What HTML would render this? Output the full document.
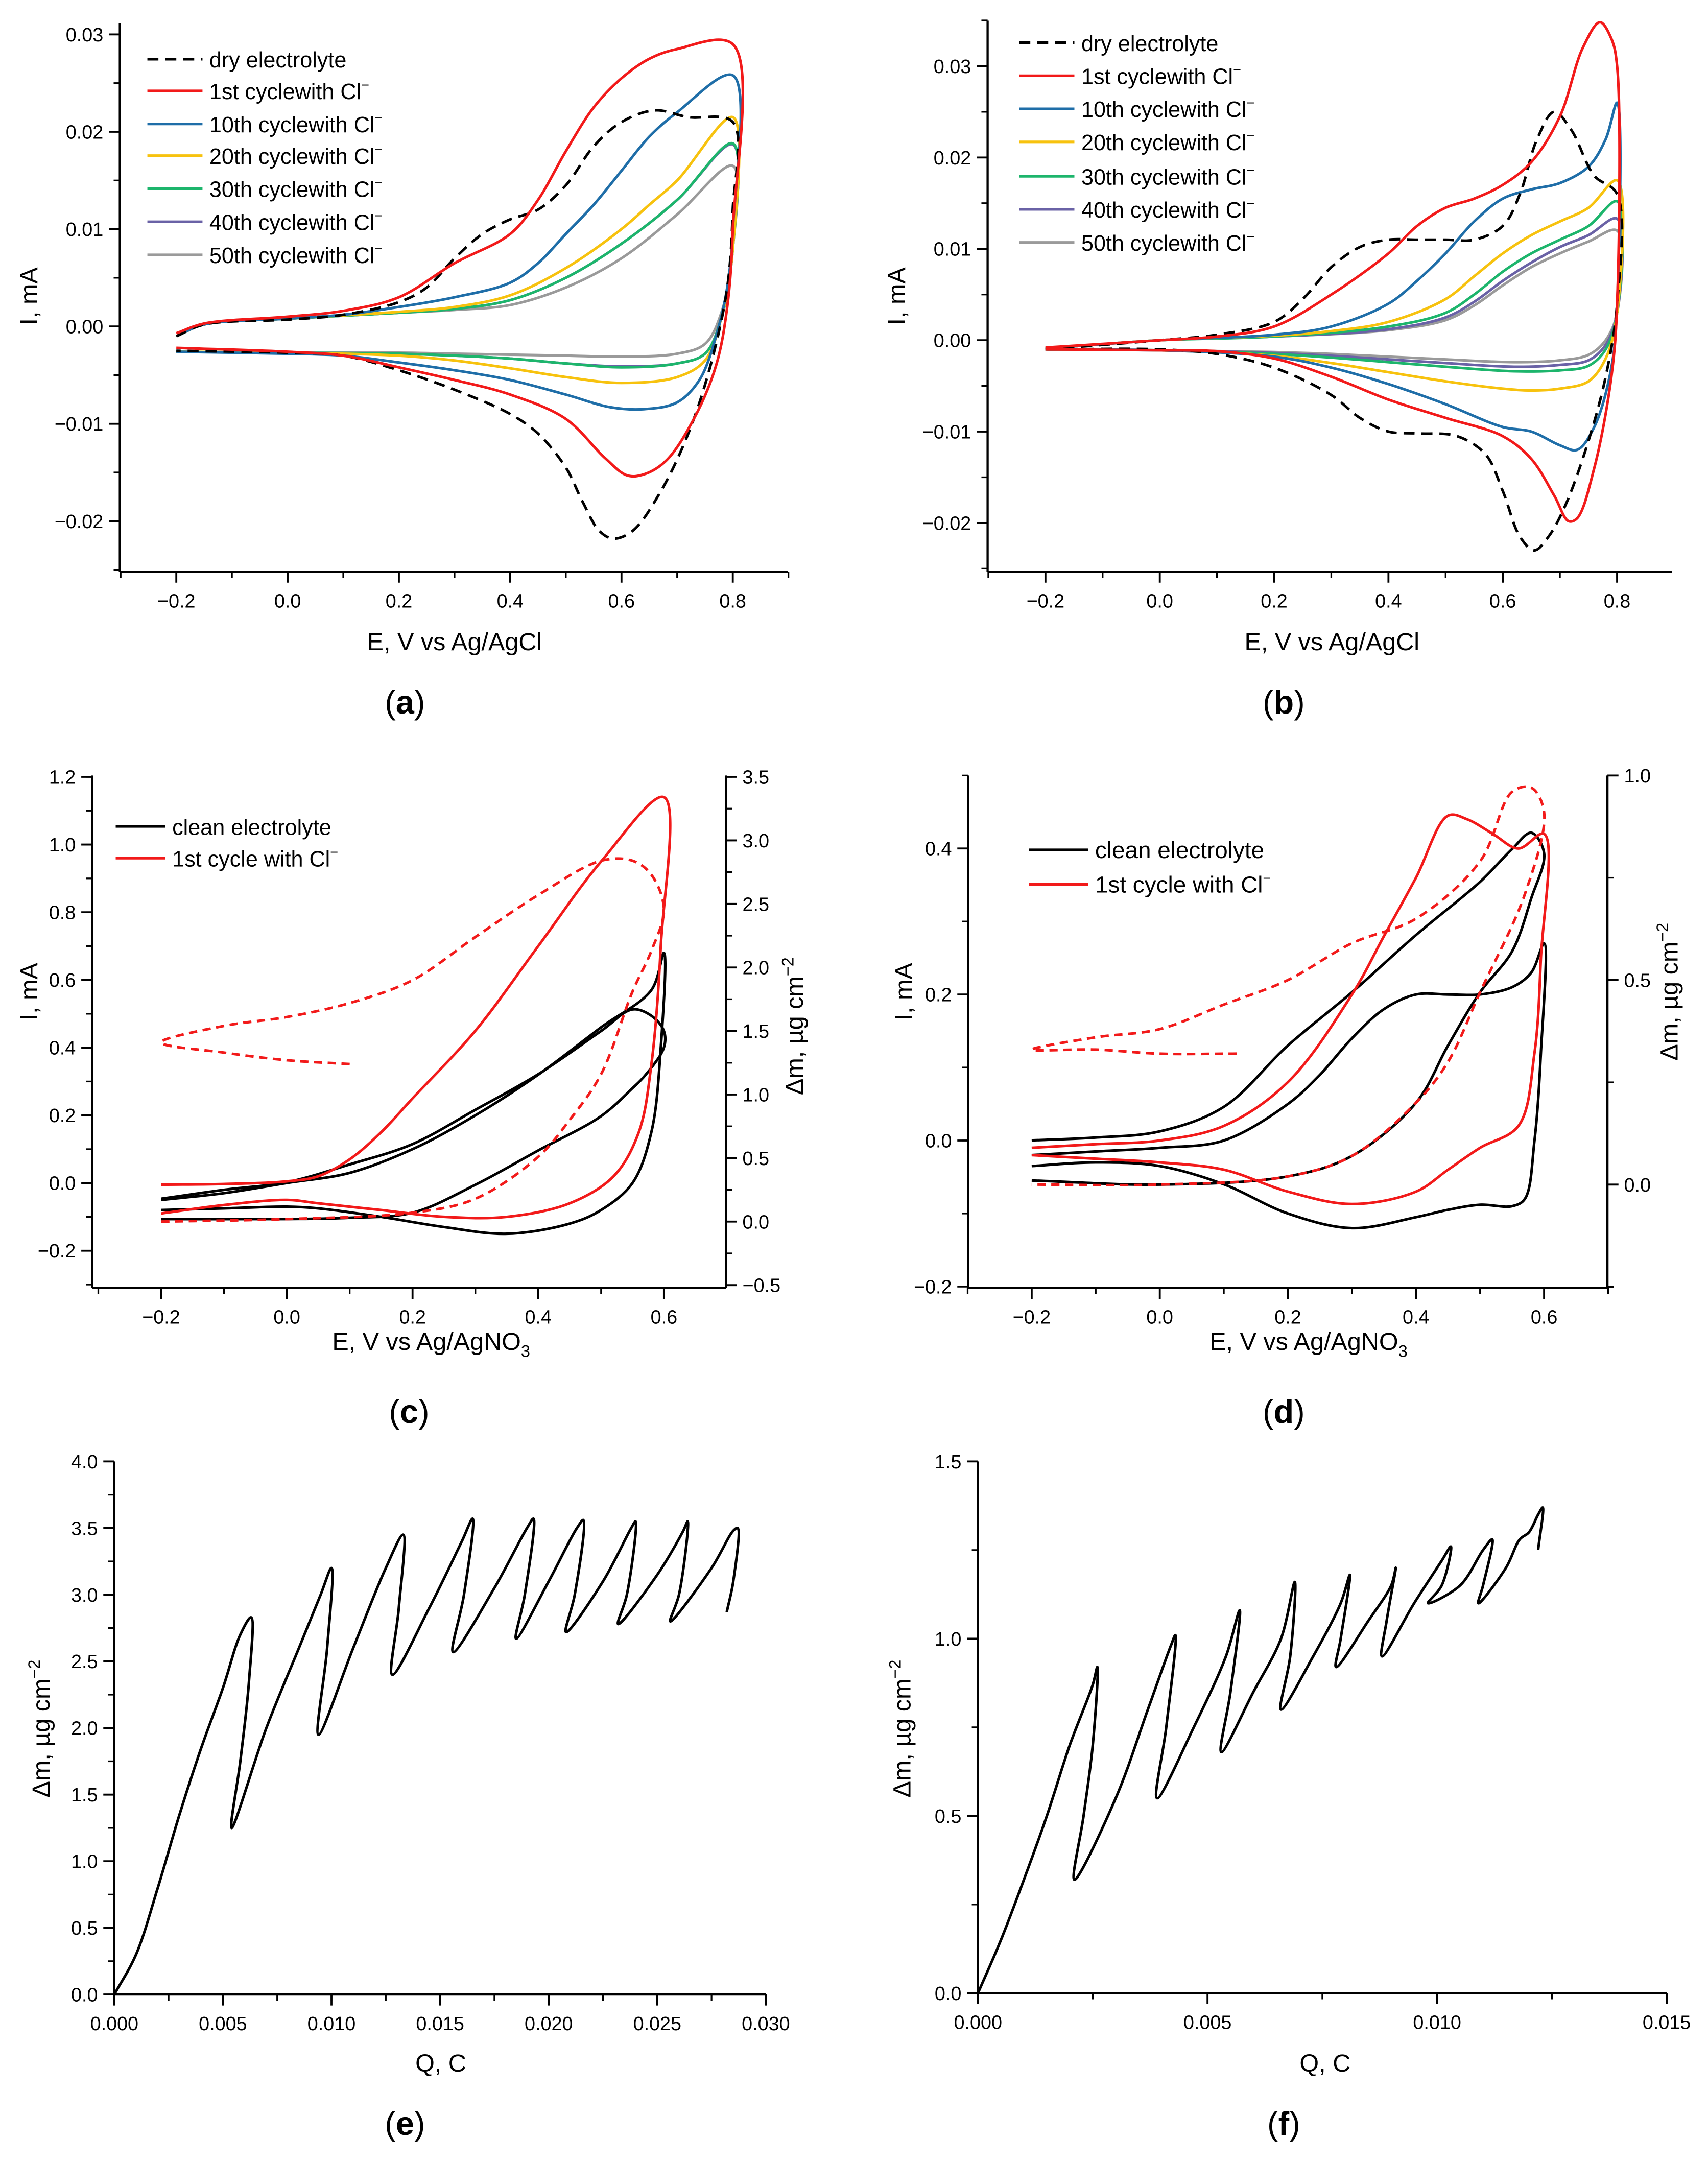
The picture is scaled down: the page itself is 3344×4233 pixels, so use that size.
<!DOCTYPE html>
<html><head><meta charset="utf-8"><style>
html,body{margin:0;padding:0;background:#fff}
svg{display:block}
text{font-family:"Liberation Sans",Arial,sans-serif;fill:#000}
</style></head><body>
<svg id="fig" xmlns="http://www.w3.org/2000/svg" width="3344" height="4233" viewBox="0 0 1240 1569.6" preserveAspectRatio="none"></svg>
<script>
// ---------- Panel (a) data: [E, I mA] ----------
const a_dry  = [[-0.2,-0.001],[-0.15,0.0002],[0,0.0007],[0.1,0.0012],[0.2,0.0025],[0.25,0.004],[0.3,0.007],[0.35,0.0095],[0.4,0.011],[0.45,0.012],[0.5,0.0145],[0.55,0.0185],[0.6,0.021],[0.66,0.0222],[0.72,0.0215],[0.8,0.021],[0.8,0.012],[0.79,0.004],[0.76,-0.004],[0.72,-0.011],[0.67,-0.017],[0.62,-0.021],[0.585,-0.0218],[0.56,-0.021],[0.53,-0.018],[0.5,-0.0145],[0.45,-0.011],[0.4,-0.009],[0.3,-0.0065],[0.2,-0.0045],[0.1,-0.003],[0,-0.0027],[-0.2,-0.0025]];
const a_c1   = [[-0.2,-0.0007],[-0.15,0.0003],[0,0.001],[0.1,0.0016],[0.2,0.003],[0.3,0.0065],[0.4,0.0095],[0.45,0.013],[0.5,0.018],[0.55,0.0225],[0.6,0.0255],[0.65,0.0275],[0.7,0.0285],[0.8,0.029],[0.8,0.01],[0.79,0.002],[0.77,-0.004],[0.73,-0.0095],[0.68,-0.0138],[0.64,-0.0152],[0.61,-0.0153],[0.57,-0.0135],[0.5,-0.0095],[0.4,-0.007],[0.3,-0.0055],[0.2,-0.0042],[0.1,-0.003],[0,-0.0026],[-0.2,-0.0022]];
const a_c10  = [[-0.2,-0.001],[-0.15,0.0002],[0,0.0008],[0.1,0.0012],[0.2,0.002],[0.3,0.003],[0.4,0.0045],[0.45,0.0065],[0.5,0.0095],[0.55,0.0125],[0.6,0.016],[0.65,0.0195],[0.7,0.022],[0.8,0.0258],[0.8,0.01],[0.79,0.004],[0.77,-0.001],[0.74,-0.0055],[0.7,-0.0078],[0.64,-0.0085],[0.58,-0.0083],[0.5,-0.007],[0.4,-0.0055],[0.3,-0.0045],[0.2,-0.0037],[0.1,-0.003],[0,-0.0028],[-0.2,-0.0026]];
const a_c20  = [[-0.2,-0.001],[-0.15,0.0002],[0,0.0008],[0.2,0.0015],[0.3,0.002],[0.4,0.0032],[0.5,0.006],[0.6,0.01],[0.65,0.0125],[0.7,0.015],[0.8,0.0215],[0.8,0.008],[0.78,0.001],[0.75,-0.0035],[0.7,-0.0052],[0.6,-0.0058],[0.5,-0.0052],[0.4,-0.0043],[0.3,-0.0035],[0.2,-0.003],[0,-0.0027],[-0.2,-0.0026]];
const a_c30  = [[-0.2,-0.001],[-0.15,0.0002],[0,0.0008],[0.2,0.0014],[0.3,0.0018],[0.4,0.0027],[0.5,0.005],[0.6,0.0085],[0.7,0.013],[0.8,0.0188],[0.8,0.008],[0.78,0.001],[0.75,-0.0028],[0.7,-0.0038],[0.6,-0.0042],[0.5,-0.0038],[0.4,-0.0033],[0.3,-0.003],[0.2,-0.0028],[0,-0.0027],[-0.2,-0.0026]];
const a_c40  = [[-0.2,-0.001],[-0.15,0.0002],[0,0.0008],[0.2,0.0014],[0.3,0.0018],[0.4,0.0027],[0.5,0.005],[0.6,0.0085],[0.7,0.013],[0.8,0.0187],[0.8,0.008],[0.78,0.001],[0.75,-0.0028],[0.7,-0.0038],[0.6,-0.0041],[0.5,-0.0038],[0.4,-0.0033],[0.3,-0.003],[0.2,-0.0028],[0,-0.0027],[-0.2,-0.0026]];
const a_c50  = [[-0.2,-0.001],[-0.15,0.0002],[0,0.0008],[0.2,0.0014],[0.3,0.0017],[0.4,0.0022],[0.5,0.004],[0.6,0.007],[0.7,0.0115],[0.8,0.0165],[0.8,0.008],[0.78,0.0015],[0.75,-0.0018],[0.7,-0.0028],[0.6,-0.0031],[0.5,-0.003],[0.4,-0.0029],[0.3,-0.0028],[0.2,-0.0027],[0,-0.0027],[-0.2,-0.0026]];
// ---------- Panel (b) data ----------
const b_dry  = [[-0.2,-0.001],[0,0],[0.1,0.0006],[0.2,0.002],[0.25,0.0045],[0.3,0.008],[0.35,0.0102],[0.4,0.011],[0.45,0.011],[0.5,0.011],[0.55,0.011],[0.6,0.0125],[0.63,0.016],[0.66,0.022],[0.69,0.025],[0.72,0.023],[0.76,0.018],[0.8,0.016],[0.8,0.004],[0.78,-0.004],[0.75,-0.011],[0.71,-0.018],[0.68,-0.0215],[0.655,-0.023],[0.63,-0.0215],[0.6,-0.0165],[0.57,-0.0125],[0.52,-0.0105],[0.45,-0.0102],[0.4,-0.01],[0.35,-0.0085],[0.3,-0.006],[0.2,-0.003],[0.1,-0.0015],[0,-0.001],[-0.2,-0.001]];
const b_c1   = [[-0.2,-0.0008],[0,0],[0.1,0.0004],[0.2,0.0015],[0.3,0.005],[0.4,0.0095],[0.45,0.0125],[0.5,0.0145],[0.55,0.0155],[0.6,0.017],[0.65,0.0195],[0.7,0.0245],[0.74,0.032],[0.77,0.0348],[0.79,0.033],[0.8,0.03],[0.8,0.004],[0.79,-0.004],[0.76,-0.014],[0.73,-0.0195],[0.715,-0.0198],[0.69,-0.017],[0.65,-0.013],[0.6,-0.0105],[0.5,-0.0085],[0.4,-0.0065],[0.3,-0.004],[0.2,-0.002],[0.1,-0.0012],[0,-0.0011],[-0.2,-0.001]];
const b_c10  = [[-0.2,-0.0009],[0,0],[0.2,0.0006],[0.3,0.0015],[0.4,0.004],[0.45,0.0065],[0.5,0.0095],[0.55,0.013],[0.6,0.0155],[0.65,0.0165],[0.7,0.0172],[0.75,0.019],[0.78,0.022],[0.8,0.026],[0.8,0.004],[0.79,-0.003],[0.76,-0.0095],[0.73,-0.012],[0.7,-0.0115],[0.65,-0.01],[0.6,-0.0095],[0.5,-0.007],[0.4,-0.0048],[0.3,-0.003],[0.2,-0.0018],[0,-0.0011],[-0.2,-0.001]];
const b_c20  = [[-0.2,-0.0009],[0,0],[0.2,0.0005],[0.3,0.001],[0.4,0.002],[0.5,0.0045],[0.55,0.007],[0.6,0.0095],[0.65,0.0115],[0.7,0.013],[0.75,0.0145],[0.8,0.0175],[0.8,0.003],[0.78,-0.002],[0.75,-0.0045],[0.7,-0.0053],[0.65,-0.0055],[0.6,-0.0053],[0.5,-0.0045],[0.4,-0.0035],[0.3,-0.0025],[0.2,-0.0017],[0,-0.0011],[-0.2,-0.001]];
const b_c30  = [[-0.2,-0.0009],[0,0],[0.2,0.0004],[0.4,0.0015],[0.5,0.003],[0.55,0.005],[0.6,0.0075],[0.65,0.0095],[0.7,0.011],[0.75,0.0125],[0.8,0.0152],[0.8,0.003],[0.78,-0.001],[0.75,-0.0028],[0.7,-0.0033],[0.62,-0.0034],[0.5,-0.0029],[0.4,-0.0024],[0.3,-0.0019],[0.2,-0.0015],[0,-0.0011],[-0.2,-0.001]];
const b_c40  = [[-0.2,-0.0009],[0,0],[0.2,0.0004],[0.4,0.0012],[0.5,0.0025],[0.55,0.0042],[0.6,0.0065],[0.65,0.0085],[0.7,0.0102],[0.75,0.0115],[0.8,0.0133],[0.8,0.003],[0.78,-0.0005],[0.75,-0.0022],[0.7,-0.0027],[0.62,-0.0029],[0.5,-0.0025],[0.4,-0.0021],[0.3,-0.0017],[0.2,-0.0014],[0,-0.0011],[-0.2,-0.001]];
const b_c50  = [[-0.2,-0.0009],[0,0],[0.2,0.0004],[0.4,0.0011],[0.5,0.0022],[0.55,0.0038],[0.6,0.006],[0.65,0.008],[0.7,0.0095],[0.75,0.0108],[0.8,0.012],[0.8,0.003],[0.78,0.0],[0.75,-0.0016],[0.7,-0.0022],[0.62,-0.0024],[0.5,-0.0021],[0.4,-0.0018],[0.3,-0.0015],[0.2,-0.0013],[0,-0.0011],[-0.2,-0.001]];
// ---------- Panel (c) data ----------
const c_cv_clean = [[-0.2,-0.05],[-0.1,-0.03],[0,0.0],[0.1,0.03],[0.2,0.1],[0.3,0.2],[0.4,0.32],[0.5,0.46],[0.58,0.57],[0.6,0.68],[0.595,0.4],[0.58,0.15],[0.55,0.0],[0.5,-0.08],[0.45,-0.12],[0.35,-0.15],[0.25,-0.13],[0.15,-0.1],[0.05,-0.075],[0,-0.07],[-0.1,-0.075],[-0.2,-0.08]];
const c_cv_cl    = [[-0.2,-0.005],[-0.1,-0.003],[0,0.005],[0.05,0.02],[0.1,0.07],[0.15,0.15],[0.2,0.25],[0.3,0.45],[0.4,0.7],[0.5,0.95],[0.6,1.14],[0.595,0.7],[0.58,0.35],[0.56,0.15],[0.52,0.02],[0.45,-0.06],[0.35,-0.1],[0.25,-0.1],[0.15,-0.08],[0.05,-0.06],[0,-0.05],[-0.1,-0.065],[-0.2,-0.09]];
const c_m_clean  = [[-0.2,0.18],[-0.1,0.25],[0,0.31],[0.1,0.45],[0.2,0.61],[0.3,0.88],[0.4,1.16],[0.5,1.5],[0.55,1.67],[0.58,1.62],[0.6,1.5],[0.6,1.37],[0.57,1.15],[0.55,1.05],[0.5,0.83],[0.4,0.56],[0.3,0.29],[0.2,0.07],[0.1,0.03],[0,0.02],[-0.2,0.02]];
const c_m_cl     = [[0.1,1.24],[0,1.27],[-0.1,1.33],[-0.2,1.41],[-0.1,1.54],[0,1.61],[0.1,1.72],[0.2,1.9],[0.3,2.24],[0.4,2.57],[0.5,2.84],[0.55,2.84],[0.58,2.73],[0.6,2.46],[0.58,2.13],[0.55,1.81],[0.5,1.16],[0.45,0.8],[0.4,0.51],[0.3,0.18],[0.2,0.07],[0,0.02],[-0.2,0.0]];
// ---------- Panel (d) data ----------
const d_cv_clean = [[-0.2,-0.02],[-0.1,-0.015],[0,-0.01],[0.1,0.0],[0.2,0.05],[0.25,0.09],[0.3,0.14],[0.35,0.18],[0.4,0.2],[0.45,0.2],[0.5,0.2],[0.55,0.21],[0.58,0.23],[0.6,0.27],[0.595,0.12],[0.585,0.0],[0.57,-0.08],[0.55,-0.09],[0.5,-0.088],[0.45,-0.095],[0.4,-0.105],[0.3,-0.12],[0.2,-0.1],[0.1,-0.06],[0,-0.035],[-0.1,-0.03],[-0.2,-0.035]];
const d_cv_cl    = [[-0.2,-0.01],[-0.1,-0.005],[0,0.0],[0.1,0.02],[0.2,0.08],[0.3,0.2],[0.35,0.28],[0.4,0.36],[0.45,0.445],[0.48,0.44],[0.52,0.42],[0.56,0.4],[0.6,0.42],[0.595,0.25],[0.585,0.12],[0.56,0.02],[0.5,-0.01],[0.45,-0.04],[0.4,-0.07],[0.3,-0.087],[0.2,-0.07],[0.1,-0.04],[0,-0.03],[-0.1,-0.025],[-0.2,-0.02]];
const d_m_clean  = [[-0.2,0.108],[-0.1,0.115],[0,0.13],[0.1,0.19],[0.2,0.34],[0.3,0.47],[0.4,0.61],[0.5,0.74],[0.55,0.82],[0.58,0.86],[0.6,0.81],[0.58,0.7],[0.55,0.57],[0.5,0.47],[0.45,0.34],[0.4,0.2],[0.3,0.07],[0.2,0.02],[0,0.0],[-0.2,0.01]];
const d_m_cl     = [[0.12,0.32],[0,0.32],[-0.1,0.33],[-0.2,0.33],[-0.1,0.36],[0,0.38],[0.1,0.44],[0.2,0.5],[0.3,0.59],[0.4,0.65],[0.5,0.79],[0.55,0.96],[0.58,0.97],[0.6,0.91],[0.57,0.71],[0.5,0.47],[0.45,0.3],[0.4,0.2],[0.3,0.07],[0.2,0.02],[0,0.0],[-0.2,0.0]];
// ---------- Panel (e) data: [Q C, dm] ----------
const e_q  = [0,0.001,0.002,0.003,0.004,0.005,0.0058,0.0063,0.0062,0.0058,0.0054,0.007,0.0085,0.0095,0.01,0.0098,0.0094,0.011,0.0125,0.0133,0.0131,0.0128,0.0145,0.016,0.0165,0.0161,0.0156,0.0175,0.019,0.0193,0.0189,0.0185,0.020,0.0213,0.0216,0.0212,0.0208,0.0225,0.0238,0.024,0.0236,0.0232,0.025,0.0262,0.0264,0.026,0.0256,0.0275,0.0285,0.0287,0.0285,0.0282];
const e_dm = [0,0.3,0.8,1.35,1.85,2.3,2.7,2.83,2.35,1.75,1.25,2.0,2.6,3.0,3.2,2.6,1.95,2.6,3.2,3.45,2.9,2.4,2.9,3.4,3.57,3.0,2.57,3.05,3.5,3.57,3.0,2.67,3.1,3.5,3.56,3.0,2.72,3.1,3.5,3.55,3.0,2.78,3.15,3.48,3.55,3.0,2.8,3.2,3.48,3.5,3.1,2.87];
// ---------- Panel (f) data ----------
const f_q  = [0,0.0005,0.001,0.0015,0.002,0.0025,0.0026,0.0025,0.0023,0.0021,0.003,0.0037,0.0042,0.0043,0.0041,0.0039,0.0047,0.0054,0.0057,0.0055,0.0053,0.006,0.0066,0.0069,0.0068,0.0066,0.0073,0.0079,0.0081,0.0079,0.0078,0.0085,0.009,0.0091,0.0089,0.0088,0.0095,0.0101,0.0103,0.0101,0.0098,0.0105,0.011,0.0112,0.011,0.0109,0.0115,0.0118,0.012,0.0122,0.0123,0.0122];
const f_dm = [0,0.15,0.32,0.5,0.7,0.87,0.92,0.7,0.5,0.32,0.55,0.8,0.98,1.01,0.75,0.55,0.75,0.95,1.08,0.85,0.68,0.85,1.0,1.16,0.95,0.8,0.95,1.1,1.18,1.0,0.92,1.05,1.15,1.2,1.05,0.95,1.1,1.22,1.26,1.15,1.1,1.15,1.25,1.28,1.15,1.1,1.2,1.28,1.3,1.35,1.37,1.25];

const NS="http://www.w3.org/2000/svg";
const svg=document.getElementById('fig');
function el(tag,attrs,parent){const e=document.createElementNS(NS,tag);for(const k in attrs)e.setAttribute(k,attrs[k]);(parent||svg).appendChild(e);return e;}
function lin(d0,d1,p0,p1){return v=>p0+(v-d0)*(p1-p0)/(d1-d0);}
function fmt(v,dec){const s=Math.abs(v).toFixed(dec);return (v<-1e-12?'\u2212':'')+s;}
// centripetal Catmull-Rom -> cubic Bezier path
function smoothPath(P){
  if(P.length<3)return P.map((p,i)=>(i?'L':'M')+p[0].toFixed(2)+' '+p[1].toFixed(2)).join(' ');
  let d='M'+P[0][0].toFixed(2)+' '+P[0][1].toFixed(2);
  const dist=(a,b)=>Math.pow(Math.hypot(a[0]-b[0],a[1]-b[1]),0.5);
  for(let i=0;i<P.length-1;i++){
    const p0=P[Math.max(0,i-1)],p1=P[i],p2=P[i+1],p3=P[Math.min(P.length-1,i+2)];
    let d1=dist(p0,p1),d2=dist(p1,p2),d3=dist(p2,p3);
    let b1=p1.slice(),b2=p2.slice();
    if(d1>1e-6&&d2>1e-6){for(let k=0;k<2;k++)b1[k]=(d1*d1*p2[k]-d2*d2*p0[k]+(2*d1*d1+3*d1*d2+d2*d2)*p1[k])/(3*d1*(d1+d2));}
    else if(d2>1e-6){for(let k=0;k<2;k++)b1[k]=p1[k]+(p2[k]-p1[k])/3;}
    if(d3>1e-6&&d2>1e-6){for(let k=0;k<2;k++)b2[k]=(d3*d3*p1[k]-d2*d2*p3[k]+(2*d3*d3+3*d3*d2+d2*d2)*p2[k])/(3*d3*(d3+d2));}
    else if(d2>1e-6){for(let k=0;k<2;k++)b2[k]=p2[k]+(p1[k]-p2[k])/3;}
    d+=' C'+b1[0].toFixed(2)+' '+b1[1].toFixed(2)+' '+b2[0].toFixed(2)+' '+b2[1].toFixed(2)+' '+p2[0].toFixed(2)+' '+p2[1].toFixed(2);
  }
  return d;
}
function series(g,pts,sx,sy,color,dash,name,smooth){
  const P=pts.map(p=>[sx(p[0]),sy(p[1])]);
  const d=smooth?smoothPath(P):P.map((p,i)=>(i?'L':'M')+p[0].toFixed(2)+' '+p[1].toFixed(2)).join(' ');
  const p=el('path',{d:d,fill:'none',stroke:color,'stroke-width':1.9,'stroke-linejoin':'round','stroke-dasharray':dash||'none'},g);
  
  
}
function xAxis(g,sx,y,x0,x1,ticks,dec,minorStep){
  el('line',{x1:x0,x2:x1,y1:y,y2:y,stroke:'#000','stroke-width':1.6},g);
  ticks.forEach(t=>{const x=sx(t);el('line',{x1:x,x2:x,y1:y,y2:y+8,stroke:'#000','stroke-width':1.4},g);
    const tx=el('text',{x:x,y:y+26,'text-anchor':'middle','font-size':14},g);tx.textContent=fmt(t,dec);});
  if(minorStep){for(let i=0;i<200;i++){const t=ticks[0]-minorStep*20+i*minorStep/2;const x=sx(t);if(x>=x0-0.5&&x<=x1+0.5)el('line',{x1:x,x2:x,y1:y,y2:y+4.5,stroke:'#000','stroke-width':1.2},g);}}
}
function yAxis(g,sy,x,y0,y1,ticks,dec,minorStep,right){
  const s=right?1:-1;
  el('line',{x1:x,x2:x,y1:y0,y2:y1,stroke:'#000','stroke-width':1.6},g);
  ticks.forEach(t=>{const y=sy(t);el('line',{x1:x,x2:x+s*8,y1:y,y2:y,stroke:'#000','stroke-width':1.4},g);
    const tx=el('text',{x:x+s*12,y:y+5,'text-anchor':right?'start':'end','font-size':14},g);tx.textContent=fmt(t,dec);});
  if(minorStep){for(let i=0;i<200;i++){const t=ticks[0]-minorStep*20+i*minorStep/2;const y=sy(t);if(y>=Math.min(y0,y1)-0.5&&y<=Math.max(y0,y1)+0.5)el('line',{x1:x,x2:x+s*4.5,y1:y,y2:y,stroke:'#000','stroke-width':1.2},g);}}
}
function txt(g,x,y,s,size,rot,name,extra){const t=el('text',Object.assign({x:x,y:y,'text-anchor':'middle','font-size':size},extra||{}),g);
  if(rot)t.setAttribute('transform','rotate(-90 '+x+' '+y+')');t.innerHTML=s;
  return t;}
function legend(g,x0,x1,tx,rows,items,size){
  items.forEach((it,i)=>{const y=rows[i];
    el('line',{x1:x0,x2:x1,y1:y,y2:y,stroke:it[1],'stroke-width':1.9,'stroke-dasharray':it[2]||'none'},g);
    const t=el('text',{x:tx,y:y+6,'font-size':size},g);t.innerHTML=it[0];
    });
}
function panelLabel(x,y,letter,name){const t=el('text',{x:x,y:y,'text-anchor':'middle','font-size':24,'font-family':'Liberation Serif, serif'});
  t.innerHTML='(<tspan font-weight="bold">'+letter+'</tspan>)';}
function grp(name){const g=el('g',{});return g;}

const RED='#f21a1a',BLUE='#1f6ea8',YEL='#f7c20e',GRN='#1db56c',PUR='#6a62a6',GRY='#9a9a9a';
const CL='Cl<tspan font-size="10" dy="-7">\u2212</tspan>';

// ===== Panel a =====
(function(){const g=grp('panel-a');
  const sx=lin(-0.2,0.8,128,532), sy=lin(0,0.03,237,25);
  xAxis(g,sx,415,87,572,[-0.2,0,0.2,0.4,0.6,0.8],1,0.2);
  yAxis(g,sy,87,17,415,[-0.02,-0.01,0,0.01,0.02,0.03],2,0.01);
  series(g,a_c50,sx,sy,GRY,null,'series-50th-cycle',1);
  series(g,a_c40,sx,sy,PUR,null,'series-40th-cycle',1);
  series(g,a_c30,sx,sy,GRN,null,'series-30th-cycle',1);
  series(g,a_c20,sx,sy,YEL,null,'series-20th-cycle',1);
  series(g,a_c10,sx,sy,BLUE,null,'series-10th-cycle',1);
  series(g,a_dry,sx,sy,'#000','8 5','series-dry-electrolyte',1);
  series(g,a_c1,sx,sy,RED,null,'series-1st-cycle',1);
  legend(g,107,147,152,[43,66,90,113,137,161,185],[['dry electrolyte','#000','8 5'],['1st cyclewith '+CL,RED],['10th cyclewith '+CL,BLUE],['20th cyclewith '+CL,YEL],['30th cyclewith '+CL,GRN],['40th cyclewith '+CL,PUR],['50th cyclewith '+CL,GRY]],16);
  txt(g,330,472,'E, V vs Ag/AgCl',18,false,'x-axis-title');
  txt(g,27,215,'I, mA',18,true,'y-axis-title');
  panelLabel(294,518,'a','panel-label-a');
})();
// ===== Panel b =====
(function(){const g=grp('panel-b');
  const sx=lin(-0.2,0.8,759,1174), sy=lin(0,0.03,247,48);
  xAxis(g,sx,415,717,1214,[-0.2,0,0.2,0.4,0.6,0.8],1,0.2);
  yAxis(g,sy,717,15,415,[-0.02,-0.01,0,0.01,0.02,0.03],2,0.01);
  series(g,b_c50,sx,sy,GRY,null,'series-50th-cycle',1);
  series(g,b_c40,sx,sy,PUR,null,'series-40th-cycle',1);
  series(g,b_c30,sx,sy,GRN,null,'series-30th-cycle',1);
  series(g,b_c20,sx,sy,YEL,null,'series-20th-cycle',1);
  series(g,b_c10,sx,sy,BLUE,null,'series-10th-cycle',1);
  series(g,b_dry,sx,sy,'#000','8 5','series-dry-electrolyte',1);
  series(g,b_c1,sx,sy,RED,null,'series-1st-cycle',1);
  legend(g,740,780,785,[31,55,79,103,128,152,176],[['dry electrolyte','#000','8 5'],['1st cyclewith '+CL,RED],['10th cyclewith '+CL,BLUE],['20th cyclewith '+CL,YEL],['30th cyclewith '+CL,GRN],['40th cyclewith '+CL,PUR],['50th cyclewith '+CL,GRY]],16);
  txt(g,967,472,'E, V vs Ag/AgCl',18,false,'x-axis-title');
  txt(g,657,215,'I, mA',18,true,'y-axis-title');
  panelLabel(932,518,'b','panel-label-b');
})();
// ===== Panel c =====
(function(){const g=grp('panel-c');
  const sx=lin(-0.2,0.6,117,482), sy=lin(-0.2,1.2,908,564), sm=lin(-0.5,3.5,933,564);
  xAxis(g,sx,935,67,527,[-0.2,0,0.2,0.4,0.6],1,0.2);
  yAxis(g,sy,67,563,935,[-0.2,0,0.2,0.4,0.6,0.8,1.0,1.2],1,0.2);
  yAxis(g,sm,527,563,935,[-0.5,0,0.5,1,1.5,2,2.5,3,3.5],1,0.5,true);
  series(g,c_cv_clean,sx,sy,'#000',null,'current-clean-electrolyte',1);
  series(g,c_m_clean,sx,sm,'#000',null,'mass-clean-electrolyte',1);
  series(g,c_cv_cl,sx,sy,RED,null,'current-1st-cycle-cl',1);
  series(g,c_m_cl,sx,sm,RED,'6 4','mass-1st-cycle-cl',1);
  legend(g,84,120,125,[600,623],[['clean electrolyte','#000'],['1st cycle with '+CL,RED]],16);
  txt(g,313,980,'E, V vs Ag/AgNO<tspan font-size="12" dy="5">3</tspan>',18,false,'x-axis-title');
  txt(g,27,720,'I, mA',18,true,'y-axis-title-left');
  txt(g,583,745,'\u0394m, \u00b5g cm<tspan font-size="12" dy="-7">\u22122</tspan>',18,true,'y-axis-title-right');
  panelLabel(297,1033,'c','panel-label-c');
})();
// ===== Panel d =====
(function(){const g=grp('panel-d');
  const sx=lin(-0.2,0.6,749,1121), sy=lin(0,0.4,828,616), sm=lin(0,1,860,563);
  xAxis(g,sx,935,703,1167,[-0.2,0,0.2,0.4,0.6],1,0.2);
  yAxis(g,sy,703,563,935,[-0.2,0,0.2,0.4],1,0.2);
  yAxis(g,sm,1167,563,935,[0,0.5,1],1,0.5,true);
  series(g,d_cv_clean,sx,sy,'#000',null,'current-clean-electrolyte',1);
  series(g,d_m_clean,sx,sm,'#000',null,'mass-clean-electrolyte',1);
  series(g,d_cv_cl,sx,sy,RED,null,'current-1st-cycle-cl',1);
  series(g,d_m_cl,sx,sm,RED,'6 4','mass-1st-cycle-cl',1);
  legend(g,747,790,795,[617,642],[['clean electrolyte','#000'],['1st cycle with '+CL,RED]],17);
  txt(g,950,980,'E, V vs Ag/AgNO<tspan font-size="12" dy="5">3</tspan>',18,false,'x-axis-title');
  txt(g,662,720,'I, mA',18,true,'y-axis-title-left');
  txt(g,1218,720,'\u0394m, \u00b5g cm<tspan font-size="12" dy="-7">\u22122</tspan>',18,true,'y-axis-title-right');
  panelLabel(932,1033,'d','panel-label-d');
})();
// ===== Panel e =====
(function(){const g=grp('panel-e');
  const sx=lin(0,0.03,83,556), sy=lin(0,4,1448,1061);
  xAxis(g,sx,1448,83,556,[0,0.005,0.01,0.015,0.02,0.025,0.03],3,0.005);
  yAxis(g,sy,83,1061,1448,[0,0.5,1,1.5,2,2.5,3,3.5,4],1,0.5);
  series(g,e_q.map((q,i)=>[q,e_dm[i]]),sx,sy,'#000',null,'mass-vs-charge',1);
  txt(g,320,1504,'Q, C',18,false,'x-axis-title');
  txt(g,36,1255,'\u0394m, \u00b5g cm<tspan font-size="12" dy="-7">\u22122</tspan>',18,true,'y-axis-title');
  panelLabel(294,1550,'e','panel-label-e');
})();
// ===== Panel f =====
(function(){const g=grp('panel-f');
  const sx=lin(0,0.015,710,1210), sy=lin(0,1.5,1447,1061);
  xAxis(g,sx,1447,710,1210,[0,0.005,0.01,0.015],3,0.005);
  yAxis(g,sy,710,1061,1447,[0,0.5,1,1.5],1,0.5);
  series(g,f_q.map((q,i)=>[q,f_dm[i]]),sx,sy,'#000',null,'mass-vs-charge',1);
  txt(g,962,1504,'Q, C',18,false,'x-axis-title');
  txt(g,661,1255,'\u0394m, \u00b5g cm<tspan font-size="12" dy="-7">\u22122</tspan>',18,true,'y-axis-title');
  panelLabel(932,1550,'f','panel-label-f');
})();
</script>
</body></html>
